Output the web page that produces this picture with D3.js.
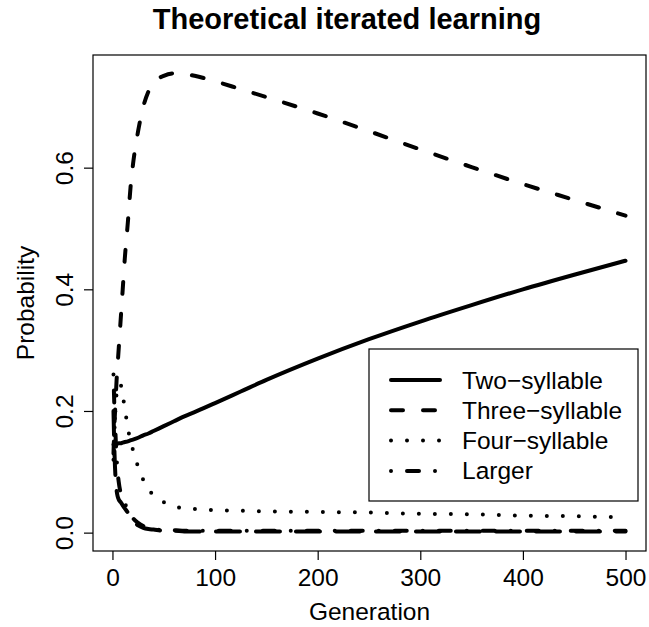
<!DOCTYPE html>
<html>
<head>
<meta charset="utf-8">
<script src="https://cdn.jsdelivr.net/npm/d3@7"></script>
<style>
  html, body { margin: 0; padding: 0; background: #fff; }
  text { font-family: "Liberation Sans", Arial, Helvetica, sans-serif; fill: #000; }
</style>
</head>
<body>
<div id="chart"></div>
<script>
// Generations at which the probabilities are sampled
const generations = [1, 2, 3, 4, 5, 6, 8, 10, 12, 15, 18, 20, 25, 30, 35, 40, 50, 60, 70, 80,
                     100, 125, 150, 200, 250, 300, 350, 400, 450, 500];

// Probability of each word length per generation
const twoSyllable   = [0.145, 0.145, 0.145, 0.146, 0.146, 0.147, 0.147, 0.148, 0.149, 0.150, 0.152, 0.153, 0.156, 0.160, 0.163, 0.167, 0.175, 0.183, 0.191, 0.198,
                       0.213, 0.232, 0.251, 0.286, 0.318, 0.347, 0.374, 0.400, 0.424, 0.447];
const threeSyllable = [0.130, 0.180, 0.215, 0.250, 0.275, 0.300, 0.350, 0.400, 0.450, 0.510, 0.575, 0.605, 0.660, 0.700, 0.725, 0.740, 0.751, 0.755, 0.754, 0.751,
                       0.742, 0.729, 0.716, 0.689, 0.660, 0.630, 0.601, 0.573, 0.547, 0.521];
const fourSyllable  = [0.120, 0.170, 0.205, 0.228, 0.240, 0.245, 0.243, 0.225, 0.205, 0.172, 0.148, 0.136, 0.108, 0.087, 0.071, 0.062, 0.050, 0.043, 0.040, 0.039,
                       0.037, 0.036, 0.035, 0.034, 0.033, 0.031, 0.030, 0.028, 0.027, 0.025];
const larger        = [0.260, 0.200, 0.160, 0.125, 0.100, 0.085, 0.065, 0.055, 0.048, 0.040, 0.030, 0.024, 0.016, 0.011, 0.008, 0.006, 0.004, 0.004, 0.003, 0.003,
                       0.003, 0.003, 0.003, 0.003, 0.003, 0.003, 0.003, 0.003, 0.003, 0.003];
// Fifth column of the matrix (long-dash, not listed in the legend)
const fifthColumn   = [0.200, 0.130, 0.090, 0.070, 0.060, 0.055, 0.050, 0.045, 0.040, 0.033, 0.025, 0.020, 0.012, 0.008, 0.006, 0.005, 0.003, 0.003, 0.002, 0.002,
                       0.002, 0.002, 0.002, 0.002, 0.002, 0.002, 0.002, 0.002, 0.002, 0.002];

const xTicks = [0, 100, 200, 300, 400, 500];
const yTicks = [0.0, 0.2, 0.4, 0.6];
const yTickLabels = ["0.0", "0.2", "0.4", "0.6"];
const legendLabels = ["Two\u2212syllable", "Three\u2212syllable", "Four\u2212syllable", "Larger"];

const W = 649, H = 627;
const box = { left: 93, right: 646, top: 55, bottom: 551 };
const lw = 4;
// R-style line types scaled by line width
const dashes = {
  solid: null,
  dashed: "12,20",
  dotted: "0,16",
  dotdash: "0,16,12,16",
  longdash: "24,16"
};

const series = [
  { values: twoSyllable,   dash: dashes.solid },
  { values: threeSyllable, dash: dashes.dashed },
  { values: fourSyllable,  dash: dashes.dotted },
  { values: larger,        dash: dashes.dotdash },
  { values: fifthColumn,   dash: dashes.longdash }
];

const svg = d3.select("#chart").append("svg")
  .attr("width", W).attr("height", H)
  .attr("viewBox", `0 0 ${W} ${H}`);

// 4% expansion of the data range on both axes
const x = d3.scaleLinear().domain([1 - 0.04 * 499, 500 + 0.04 * 499]).range([box.left, box.right]);
const y = d3.scaleLinear().domain([-0.04 * 0.755, 0.755 * 1.04]).range([box.bottom, box.top]);

const line = d3.line()
  .x((d, i) => x(generations[i]))
  .y(d => y(d))
  .curve(d3.curveMonotoneX);

const plot = svg.append("g");
plot.append("defs").append("clipPath").attr("id", "clip")
  .append("rect")
  .attr("x", box.left).attr("y", box.top)
  .attr("width", box.right - box.left).attr("height", box.bottom - box.top);

const linesG = plot.append("g").attr("clip-path", "url(#clip)");
series.forEach(s => {
  linesG.append("path")
    .attr("d", line(s.values))
    .attr("fill", "none")
    .attr("stroke", "#000")
    .attr("stroke-width", lw)
    .attr("stroke-linecap", "round")
    .attr("stroke-linejoin", "round")
    .attr("stroke-dasharray", s.dash);
});

// Plot frame
svg.append("rect")
  .attr("x", box.left).attr("y", box.top)
  .attr("width", box.right - box.left).attr("height", box.bottom - box.top)
  .attr("fill", "none").attr("stroke", "#000").attr("stroke-width", 1.2);

const fontSize = 24.5;

// X axis
const xAxis = d3.axisBottom(x).tickValues(xTicks).tickSize(9).tickPadding(9)
  .tickFormat(d3.format("d"));
const gx = svg.append("g").attr("transform", `translate(0,${box.bottom})`).call(xAxis);
gx.select(".domain").remove();
gx.selectAll("line").attr("stroke", "#000").attr("stroke-width", 1.2);
gx.selectAll("text").attr("font-size", fontSize).attr("font-family", "Liberation Sans, Arial, sans-serif").attr("fill", "#000");

// Y axis with labels parallel to the axis
const yAxis = d3.axisLeft(y).tickValues(yTicks).tickSize(9)
  .tickFormat((d, i) => yTickLabels[i]);
const gy = svg.append("g").attr("transform", `translate(${box.left},0)`).call(yAxis);
gy.select(".domain").remove();
gy.selectAll("line").attr("stroke", "#000").attr("stroke-width", 1.2);
gy.selectAll("text")
  .attr("font-size", fontSize).attr("font-family", "Liberation Sans, Arial, sans-serif").attr("fill", "#000")
  .attr("x", null).attr("dy", null)
  .attr("text-anchor", "middle")
  .attr("transform", "translate(-20,0) rotate(-90)");

// Axis titles
svg.append("text")
  .attr("x", (box.left + box.right) / 2).attr("y", 620)
  .attr("text-anchor", "middle").attr("font-size", fontSize)
  .text("Generation");
svg.append("text")
  .attr("transform", `translate(34,${(box.top + box.bottom) / 2}) rotate(-90)`)
  .attr("text-anchor", "middle").attr("font-size", fontSize)
  .text("Probability");

// Main title
svg.append("text")
  .attr("x", 347).attr("y", 29)
  .attr("text-anchor", "middle").attr("font-size", 29).attr("font-weight", "bold")
  .text("Theoretical iterated learning");

// Legend
const leg = { x0: 369, y0: 349, x1: 638, y1: 501, rowY: 380, rowGap: 30.3, segX0: 391, segX1: 440, textX: 462 };
const lg = svg.append("g");
lg.append("rect")
  .attr("x", leg.x0).attr("y", leg.y0)
  .attr("width", leg.x1 - leg.x0).attr("height", leg.y1 - leg.y0)
  .attr("fill", "#fff").attr("stroke", "#000").attr("stroke-width", 1.2);
legendLabels.forEach((lab, i) => {
  const yy = leg.rowY + i * leg.rowGap;
  lg.append("line")
    .attr("x1", leg.segX0).attr("x2", leg.segX1)
    .attr("y1", yy).attr("y2", yy)
    .attr("stroke", "#000").attr("stroke-width", lw)
    .attr("stroke-linecap", "round")
    .attr("stroke-dasharray", series[i].dash);
  lg.append("text")
    .attr("x", leg.textX).attr("y", yy)
    .attr("dy", "0.35em")
    .attr("font-size", fontSize)
    .text(lab);
});
</script>
</body>
</html>
